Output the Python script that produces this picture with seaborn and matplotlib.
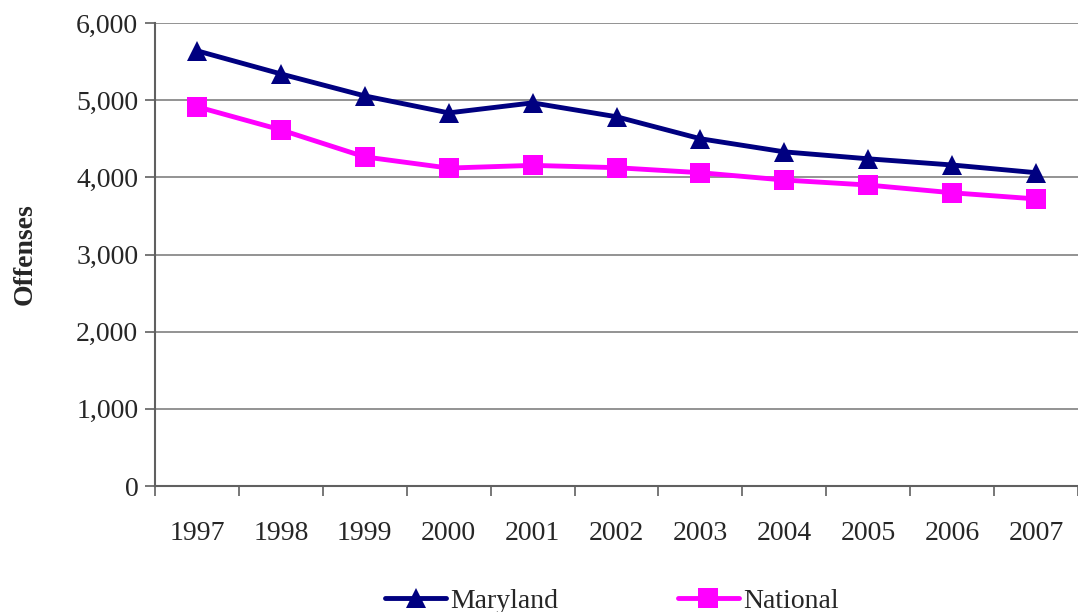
import numpy as np
import pandas as pd
import seaborn as sns
from matplotlib import pyplot as plt
from matplotlib.ticker import FuncFormatter, FixedLocator

years = ['1997', '1998', '1999', '2000', '2001', '2002', '2003', '2004', '2005', '2006', '2007']
maryland = [5640, 5340, 5055, 4835, 4965, 4785, 4500, 4330, 4240, 4160, 4060]
national = [4915, 4615, 4265, 4120, 4155, 4125, 4060, 3965, 3900, 3800, 3720]
series_names = ['Maryland', 'National']

rows = []
for i, y in enumerate(years):
    rows.append({'Pos': i, 'Year': y, 'Series': 'Maryland', 'Offenses': maryland[i]})
    rows.append({'Pos': i, 'Year': y, 'Series': 'National', 'Offenses': national[i]})
df = pd.DataFrame(rows)

sns.set_style('white')
plt.rcParams['font.family'] = ['Liberation Serif', 'DejaVu Serif']

fig = plt.figure(figsize=(10.78, 6.12), dpi=100)
ax = fig.add_axes([155 / 1078, 1 - 486 / 612, 1 - 155 / 1078, (486 - 23) / 612])

sns.lineplot(data=df, x='Pos', y='Offenses', hue='Series', style='Series',
             palette={'Maryland': '#000080', 'National': '#FF00FF'},
             markers={'Maryland': '^', 'National': 's'}, dashes=False,
             markersize=15, markeredgewidth=0, linewidth=3.5, ax=ax, legend=False)

ax.set_xlim(-0.5, 10.5)
ax.set_ylim(0, 6000)
ax.set_yticks(np.arange(0, 6001, 1000))
ax.yaxis.set_major_formatter(FuncFormatter(lambda v, p: '{:,.0f}'.format(v)))
ax.yaxis.grid(True, color='#808080', linewidth=1.2)
ax.set_axisbelow(True)

ax.set_xticks(range(len(years)))
ax.set_xticklabels(years)
ax.xaxis.set_minor_locator(FixedLocator(np.arange(-0.5, 10.6, 1)))
ax.tick_params(axis='x', which='major', length=0, pad=25, labelsize=20)
ax.tick_params(axis='x', which='minor', length=7, width=1.2, color='#606060', direction='out', bottom=True)
ax.tick_params(axis='y', length=7, width=1.2, color='#606060', direction='out', left=True, labelsize=20, pad=5)

for s in ['top', 'right']:
    ax.spines[s].set_visible(False)
for s in ['left', 'bottom']:
    ax.spines[s].set_color('#606060')
    ax.spines[s].set_linewidth(1.5)

ax.set_xlabel('')
ax.set_ylabel('Offenses', fontsize=20, fontweight='bold', labelpad=28)

handles = [
    plt.Line2D([], [], color='#000080', marker='^', markersize=15, markeredgewidth=0, linewidth=3.5),
    plt.Line2D([], [], color='#FF00FF', marker='s', markersize=15, markeredgewidth=0, linewidth=3.5),
]
fig.legend(handles, series_names, loc='center', bbox_to_anchor=(612 / 1078, 1 - 601 / 612),
           ncol=2, frameon=False, fontsize=20, handlelength=2.2, handletextpad=0.15,
           columnspacing=4.3, borderpad=0)

plt.savefig('out.png', dpi=100)
